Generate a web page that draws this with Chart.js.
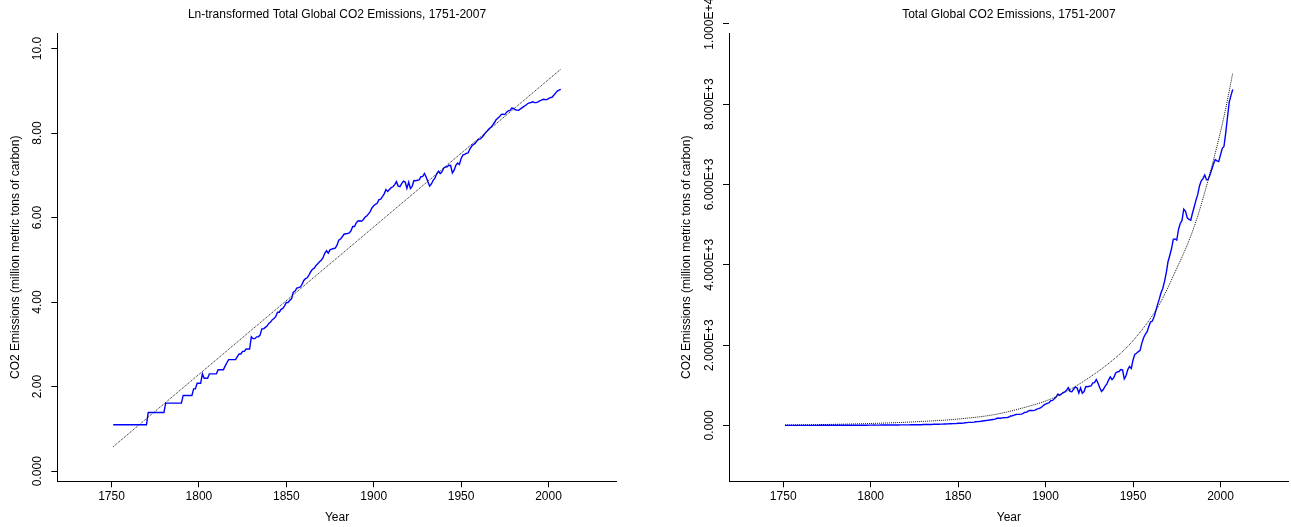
<!DOCTYPE html>
<html><head><meta charset="utf-8">
<script src="https://cdn.jsdelivr.net/npm/chart.js@4.4.0/dist/chart.umd.min.js"></script>
<style>
html,body{margin:0;padding:0;background:#fff;overflow:hidden;width:1291px;height:527px}
#l{position:absolute;left:0;top:0;width:645px;height:527px}
#r{position:absolute;left:645px;top:0;width:646px;height:527px}
</style></head><body>
<div id="l"><canvas id="cl"></canvas></div>
<div id="r"><canvas id="cr"></canvas></div>
<script>
// Total global CO2 emissions, million metric tons of carbon, one value per year from 1751 to 2007
const startYear = 1751;
const emissions = [
  3,3,3,3,3,3,3,3,3,3, 3,3,3,3,3,3,3,3,3,3,
  4,4,4,4,4,4,4,4,4,4,
  5,5,5,5,5,5,5,5,5,5,
  6,6,6,6,6,6, 7,7, 8,8,8, 10, 9,9,9,
  10,10,10,10,10, 11,11,11,11, 12, 13, 14,14,14,14,14, 15, 16,16, 17,17, 18,18,18,
  24,23,23,24,24,25,29,29,30,31,
  33,34,36,37,39,43,43,46,47,50,
  54,54,57,59,69,71,76,77,78,83,
  91,95,97,104,112,119,122,130,135,142,
  147,156,173,184,174,188,191,194,196,210,
  236,243,256,272,275,277,281,295,327,327,
  356,372,374,370,383,406,419,440,465,507,
  534,552,566,617,624,663,707,784,750,785,
  819,836,879,943,850,838,901,955,936,806,
  932,803,845,970,963,975,983,1062,1065,1145,
  1053,940,847,893,973,1027,1130,1209,1142,1192,
  1299,1334,1342,1391,1383,1160,1238,1392,1469,1419,
  1630,1768,1796,1841,1865,2043,2178,2270,2330,2462,
  2577,2594,2700,2848,3008,3145,3305,3411,3588,3800,
  4076,4231,4399,4635,4644,4615,4883,5029,5105,5387,
  5332,5168,5127,5110,5290,5444,5610,5753,5964,6089,
  6144,6235,6118,6124,6242,6372,6510,6619,6588,6569,
  6735,6896,6949,7286,7672,8049,8217,8365
];
const years = emissions.map((_, i) => startYear + i);

// Straight fitted line on the ln chart
const lnFitYears = [1751, 2007];
const lnFitValues = [0.58, 9.51];

// Exponential fitted curve on the raw chart
const expFitYears  = [1751, 1775, 1800, 1825, 1850, 1870, 1885, 1904, 1923, 1943, 1952, 1962, 1967, 1972, 1985, 1994, 2002, 2007];
const expFitValues = [  13,   25,   49,   90,  160,  265,  413,  679, 1135, 1800, 2213, 2796, 3169, 3625, 4953, 6281, 7690, 8770];

// Tick values and labels
const xTicks = [1750, 1800, 1850, 1900, 1950, 2000];
const lnTicks = [0, 2, 4, 6, 8, 10];
const lnTickLabels = ['0.000', '2.00', '4.00', '6.00', '8.00', '10.0'];
const rawTicks = [0, 2000, 4000, 6000, 8000, 10000];
const rawTickLabels = ['0.000', '2.000E+3', '4.000E+3', '6.000E+3', '8.000E+3', '1.000E+4'];

const FONT = "'Liberation Sans', Arial, Helvetica, sans-serif";
const f12 = {family: FONT, size: 12};

function pts(xs, ys) { return xs.map((x, i) => ({x: x, y: ys[i]})); }

function makeChart(canvasId, cfg) {
  return new Chart(document.getElementById(canvasId), {
    type: 'line',
    data: {
      datasets: [
        {
          data: pts(cfg.fitX, cfg.fitY),
          borderColor: '#111', borderWidth: 1, borderDash: [1, 1],
          pointRadius: 0, fill: false, tension: 0,
          cubicInterpolationMode: cfg.smoothFit ? 'monotone' : 'default'
        },
        {
          data: pts(years, cfg.values),
          borderColor: '#0000ff', borderWidth: 1.4,
          pointRadius: 0, fill: false, tension: 0
        }
      ]
    },
    options: {
      animation: false, responsive: true, maintainAspectRatio: false,
      devicePixelRatio: 1,
      layout: {padding: {left: 0, right: cfg.padRight, top: 0, bottom: 0}},
      plugins: {
        legend: {display: false}, tooltip: {enabled: false},
        title: {
          display: true, text: cfg.title, color: '#000',
          font: {family: FONT, size: 12, weight: 'normal'},
          fullSize: false,
          padding: {top: 7.6, bottom: 11.3}
        }
      },
      scales: {
        x: {
          type: 'linear', min: 1719, max: 2039,
          afterBuildTicks: s => { s.ticks = xTicks.map(v => ({value: v})); },
          afterFit: s => { s.height = 45.7; },
          ticks: {callback: v => String(v), font: f12, color: '#000', padding: 2.2, maxRotation: 0, autoSkip: false},
          grid: {display: true, drawOnChartArea: false, drawTicks: true, tickLength: 6, color: '#000', lineWidth: 1},
          border: {display: true, color: '#000', width: 1},
          title: {display: true, text: 'Year', color: '#000', font: f12, padding: {top: 0, bottom: 2.5}}
        },
        y: {
          type: 'linear', min: cfg.yMin, max: cfg.yMax,
          afterBuildTicks: s => { s.ticks = cfg.ticks.map(v => ({value: v})); },
          afterFit: s => { s.width = cfg.yWidth; },
          ticks: {
            callback: (v) => cfg.tickLabels[cfg.ticks.indexOf(v)],
            font: f12, color: '#000', minRotation: 90, maxRotation: 90,
            crossAlign: 'center', padding: cfg.tickPad, autoSkip: false
          },
          grid: {display: true, drawOnChartArea: false, drawTicks: true, tickLength: 6, color: '#000', lineWidth: 1},
          border: {display: true, color: '#000', width: 1},
          title: {display: true, text: 'CO2 Emissions (million metric tons of carbon)', color: '#000', font: f12,
                  padding: {top: cfg.yTitlePad, bottom: 0}}
        }
      }
    }
  });
}

makeChart('cl', {
  title: 'Ln-transformed Total Global CO2 Emissions, 1751-2007',
  values: emissions.map(v => Math.log(v)),
  fitX: lnFitYears, fitY: lnFitValues, smoothFit: false,
  yMin: -0.24, yMax: 10.36, ticks: lnTicks, tickLabels: lnTickLabels,
  yWidth: 57.3, tickPad: -1, yTitlePad: 8.8, padRight: 28.3
});

makeChart('cr', {
  title: 'Total Global CO2 Emissions, 1751-2007',
  values: emissions,
  fitX: expFitYears, fitY: expFitValues, smoothFit: true,
  yMin: -1390, yMax: 9763, ticks: rawTicks, tickLabels: rawTickLabels,
  yWidth: 84, tickPad: -12.85, yTitlePad: 34.8, padRight: 2.3
});
</script>
</body></html>
